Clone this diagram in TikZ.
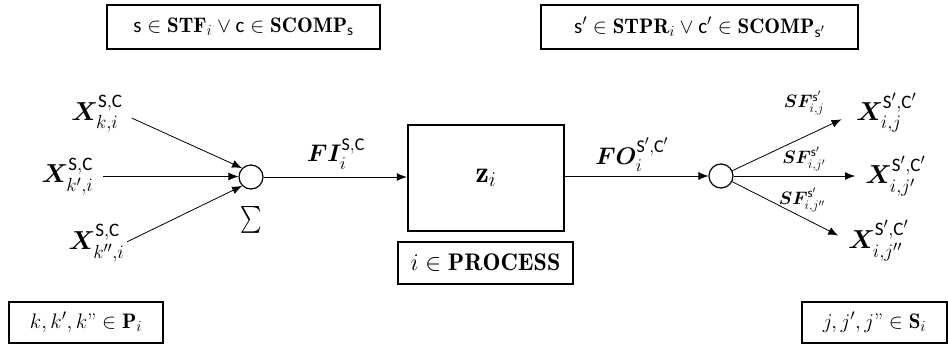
\RequirePackage{fix-cm}
\documentclass[tikz,border=0pt]{standalone}
\usepackage{amsmath,bm,graphicx}
\usepackage{fontspec}
\newfontfamily\calib{Carlito}
\usetikzlibrary{arrows.meta}
% upright sans letters used for streams and components
\newcommand{\up}[1]{\text{\calib #1}}
% slightly larger scripts than the defaults
\DeclareMathSizes{26}{26}{19}{15}
\DeclareMathSizes{24}{24}{18}{14}
\DeclareMathSizes{21}{21}{15.5}{12}
\DeclareMathSizes{30}{30}{21}{16}
\DeclareMathSizes{18}{18}{13}{10}

\begin{document}
\begin{tikzpicture}[x=1pt,y=-1pt,
  setbox/.style={draw, line width=1.3pt, inner sep=0pt, font=\fontsize{21}{24}\selectfont},
  procbox/.style={draw, line width=2.4pt, inner sep=0pt, minimum width=156pt, minimum height=106pt, font=\fontsize{30}{34}\selectfont},
  junction/.style={circle, draw, line width=1.2pt, minimum size=24pt, inner sep=0pt},
  flow/.style={line width=0.8pt, -{Latex[length=10pt,width=8pt]}},
  lbl/.style={inner sep=0pt, font=\fontsize{26}{30}\selectfont},
  flbl/.style={inner sep=0pt, font=\fontsize{24}{28}\selectfont},
  sflbl/.style={inner sep=0pt, font=\fontsize{18}{20}\selectfont}]
\useasboundingbox (0,0) rectangle (948,348);

% set definitions
\node[setbox, minimum width=273pt, minimum height=44pt] (stf) at (243.5,27)
  {$\up{s}\in\mathbf{STF}_i\vee\up{c}\in\mathbf{SCOMP}_{\up{s}}$};
\node[setbox, minimum width=317pt, minimum height=44pt] (stpr) at (699.5,27)
  {$\up{s}'\in\mathbf{STPR}_i\vee\up{c}'\in\mathbf{SCOMP}_{\up{s}'}$};
\node[setbox, minimum width=154pt, minimum height=41pt] (pset) at (86,322.5)
  {$k, k', k\text{"}\in\mathbf{P}_i$};
\node[setbox, minimum width=145pt, minimum height=41pt] (sset) at (874.5,322.5)
  {$j, j', j\text{"}\in\mathbf{S}_i$};

% process unit
\node[procbox] (z) at (486,178) {$\mathbf{z}_i$};
\node[setbox, minimum width=175pt, minimum height=42pt, font=\fontsize{24}{27}\selectfont] (proc) at (485.5,263)
  {$i\in\mathbf{PROCESS}$};

% mixer and splitter
\node[junction] (mix) at (251,177) {};
\node[inner sep=0pt] (sigma) at (251,220)
  {\scalebox{0.82}[1.08]{\fontsize{28}{28}\selectfont$\textstyle\sum$}};
\node[junction] (split) at (721,176) {};

% inlet streams
\node[lbl] (xk) at (97,114) {$\bm{X}^{\up{S},\up{C}}_{k,i}$};
\node[lbl] (xkp) at (67.5,176.5) {$\bm{X}^{\up{S},\up{C}}_{k',i}$};
\node[lbl] (xkpp) at (96.5,243) {$\bm{X}^{\up{S},\up{C}}_{k'',i}$};

% outlet streams
\node[lbl] (xj) at (886.5,112.5) {$\bm{X}^{\up{S}',\up{C}'}_{i,j}$};
\node[lbl] (xjp) at (895.5,176) {$\bm{X}^{\up{S}',\up{C}'}_{i,j'}$};
\node[lbl] (xjpp) at (878.5,240.5) {$\bm{X}^{\up{S}',\up{C}'}_{i,j''}$};

% flow labels
\node[flbl] (fi) at (336,154) {$\bm{FI}^{\up{S},\up{C}}_i$};
\node[flbl] (fo) at (632,155) {$\bm{FO}^{\up{S}',\up{C}'}_i$};
\node[sflbl] (sfj) at (804,103) {$\bm{SF}^{\up{s}'}_{i,j}$};
\node[sflbl] (sfjp) at (804,159) {$\bm{SF}^{\up{s}'}_{i,j'}$};
\node[sflbl] (sfjpp) at (802,200) {$\bm{SF}^{\up{s}'}_{i,j''}$};

% connectors
\draw[flow, shorten <=10pt] (xk.east) -- (mix.135);
\draw[flow, shorten <=10pt] (xkp.east) -- (xkp.east -| mix.west);
\draw[flow, shorten <=3pt] (xkpp.east) -- (mix.-135);
\draw[flow] (mix.east) -- (mix.east -| z.west);
\draw[flow] (z.east |- split.west) -- (split.west);
\draw[flow, shorten >=16pt] (split) -- (xj.west);
\draw[flow] (split.east) -- ([xshift=-10pt]xjp.west |- split.east);
\draw[flow, shorten >=11pt] (split) -- (xjpp.west);
\end{tikzpicture}
\end{document}
